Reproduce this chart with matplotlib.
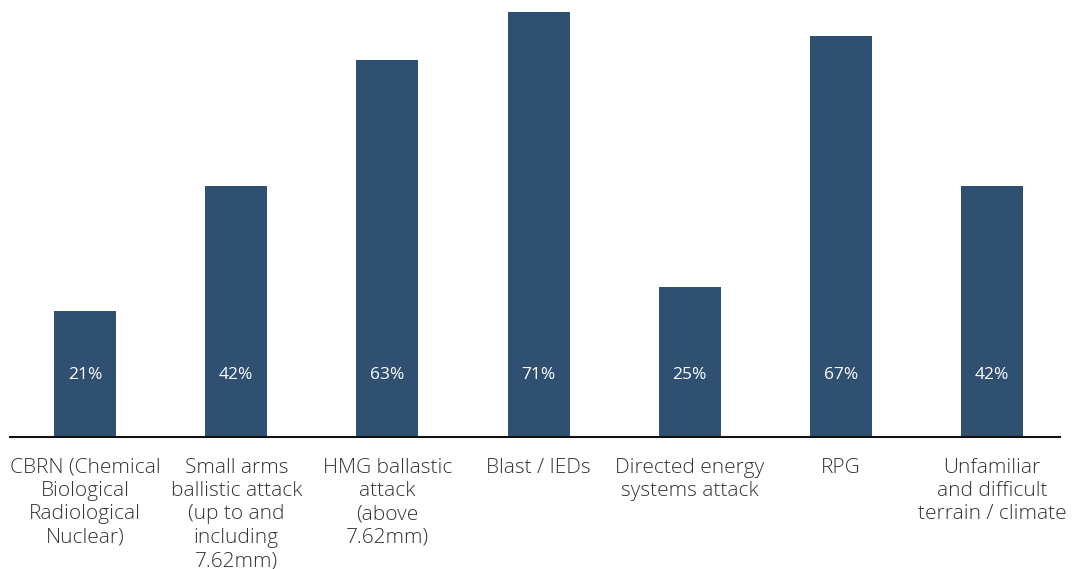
import matplotlib.pyplot as plt
import numpy as np

categories = [
    "CBRN (Chemical\nBiological\nRadiological\nNuclear)",
    "Small arms\nballistic attack\n(up to and\nincluding\n7.62mm)",
    "HMG ballastic\nattack\n(above\n7.62mm)",
    "Blast / IEDs",
    "Directed energy\nsystems attack",
    "RPG",
    "Unfamiliar\nand difficult\nterrain / climate",
]
values = [21, 42, 63, 71, 25, 67, 42]

bar_color = "#2f5070"

fig = plt.figure(figsize=(10.72, 5.69), dpi=100)
ax = fig.add_axes([10 / 1072, 132 / 569, 1050 / 1072, 437 / 569])

x = np.arange(len(categories))
ax.bar(x, values, width=0.41, color=bar_color, zorder=2)

for xi, v in zip(x, values):
    ax.text(xi, 10.4, f"{v}%", ha="center", va="center", color="white",
            fontsize=12.5, family="Open Sans", fontweight="normal")

ax.set_xticks(x)
ax.set_xticklabels(categories, family="Open Sans", fontweight="light",
                   fontsize=15, color="#333333", linespacing=1.22)
ax.tick_params(axis="x", length=0, pad=15)
ax.set_yticks([])
ax.set_xlim(-0.497, 6.45)
ax.set_ylim(0, 73)

for side in ["top", "right", "left"]:
    ax.spines[side].set_visible(False)
ax.spines["bottom"].set_linewidth(1.5)
ax.spines["bottom"].set_color("#111111")

fig.savefig("out.png", dpi=100)
